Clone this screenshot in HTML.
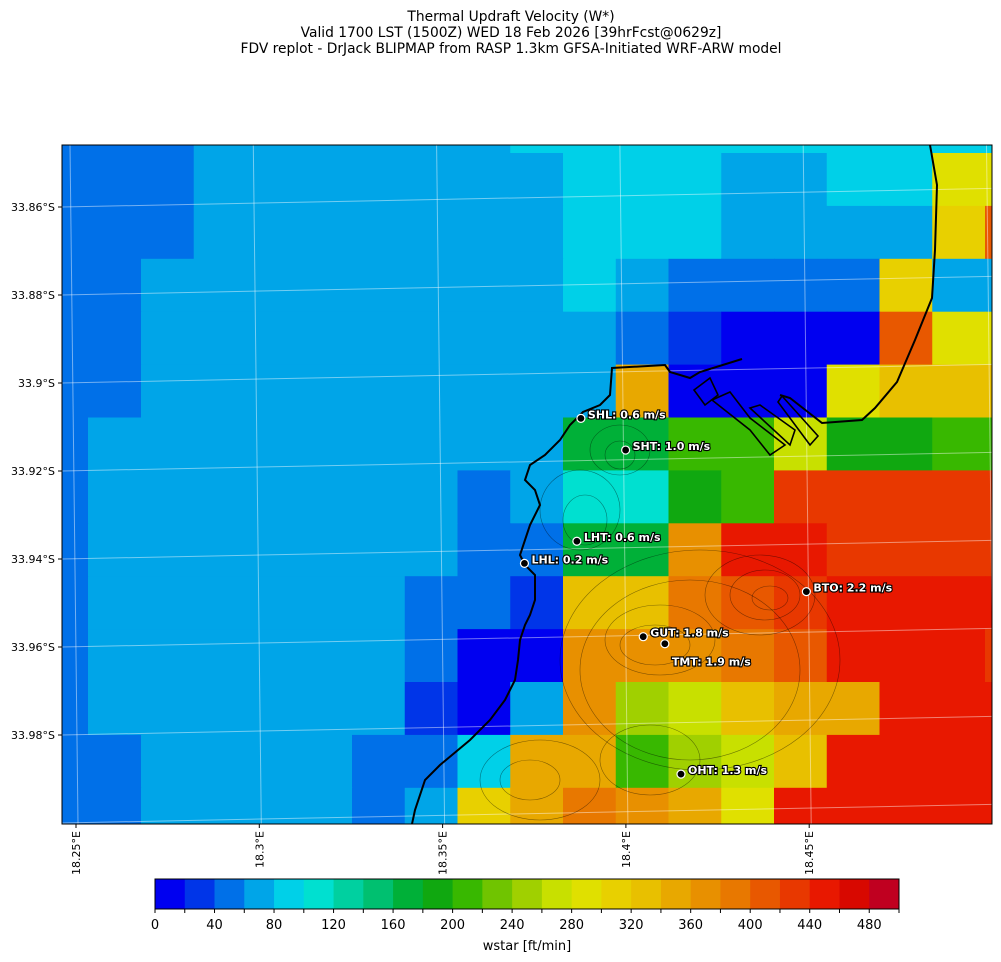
<!DOCTYPE html>
<html><head><meta charset="utf-8"><style>
body{margin:0;background:#fff;}
svg{display:block;font-family:"DejaVu Sans","Liberation Sans",sans-serif;}
</style></head><body>
<svg id="chart" width="1001" height="962" viewBox="0 0 1001 962" xmlns="http://www.w3.org/2000/svg">
<g font-size="13.8" text-anchor="middle" fill="#000">
<text x="511" y="21">Thermal Updraft Velocity (W*)</text>
<text x="511" y="37">Valid 1700 LST (1500Z) WED 18 Feb 2026 [39hrFcst@0629z]</text>
<text x="511" y="53">FDV replot - DrJack BLIPMAP from RASP 1.3km GFSA-Initiated WRF-ARW model</text>
</g>
<defs><clipPath id="mapclip"><rect x="62" y="145" width="930" height="679"/></clipPath></defs>
<g id="cells" clip-path="url(#mapclip)"></g>
<g id="grid" clip-path="url(#mapclip)" stroke="#ffffff" stroke-opacity="0.45" stroke-width="1"></g>
<g clip-path="url(#mapclip)" fill="none" stroke="#000" stroke-opacity="0.45" stroke-width="0.6">
<ellipse cx="760" cy="595" rx="55" ry="40"/><ellipse cx="765" cy="595" rx="35" ry="25"/><ellipse cx="770" cy="598" rx="18" ry="12"/>
<ellipse cx="660" cy="640" rx="55" ry="35"/><ellipse cx="655" cy="645" rx="35" ry="20"/>
<ellipse cx="580" cy="510" rx="40" ry="40"/><ellipse cx="585" cy="520" rx="22" ry="25"/>
<ellipse cx="620" cy="450" rx="30" ry="25"/><ellipse cx="620" cy="455" rx="15" ry="14"/>
<ellipse cx="700" cy="660" rx="140" ry="110"/><ellipse cx="690" cy="670" rx="110" ry="90"/>
<ellipse cx="540" cy="780" rx="60" ry="40"/><ellipse cx="530" cy="780" rx="30" ry="20"/>
<ellipse cx="650" cy="760" rx="50" ry="35"/>
</g>
<g clip-path="url(#mapclip)" fill="none" stroke="#000" stroke-width="2">
<polyline points="930,145 937,185 935,250 932,298 915,340 897,382 875,408 862,420 822,423 790,398 780,395"/>
<polyline points="742,359 700,372 690,378 670,372 665,365 612,368 610,395 600,405 583,412 570,425 560,440 545,455 530,465 525,480 535,490 540,505 530,525 525,540 520,555 525,565 535,575 535,600 530,615 525,625 520,640 518,660 515,680 505,700 490,720 470,740 440,765 425,780 415,810 412,824"/>
<polygon points="712,400 750,430 770,455 785,445 750,418 730,392" stroke-width="1.6"/>
<polygon points="750,408 790,445 795,430 760,405" stroke-width="1.6"/>
<polygon points="782,396 818,436 810,445 778,402" stroke-width="1.6"/>
<polygon points="694,390 710,378 718,395 705,405" stroke-width="1.6"/>
</g>
<rect x="62" y="145" width="930" height="679" fill="none" stroke="#000" stroke-width="1"/>
<g id="yaxis" font-size="11" text-anchor="end" fill="#000"></g>
<g id="xaxis" font-size="11" fill="#000"></g>
<g id="stations"></g>
<g id="cbar"></g>
<text x="527" y="950" font-size="13" text-anchor="middle">wstar [ft/min]</text>
</svg>
<script>
const palette=["#0000f0","#0035e8","#0070e8","#00a5e8","#00d0e8","#00e0d0","#00d0a0","#00c070","#00b038","#10a810","#38b800","#70c400","#a0d000","#c8e000","#e0e000","#e8d000","#e8c000","#e8a800","#e89000","#e87800","#e85800","#e83800","#e81800","#d80800","#c00020"];
const colorLevels=[0,20,40,60,80,100,120,140,160,180,200,220,240,260,280,300,320,340,360,380,400,420,440,460,480,500];
const colTicks=[0,40,80,120,160,200,240,280,320,360,400,440,480];
const latLabels=["33.86°S","33.88°S","33.9°S","33.92°S","33.94°S","33.96°S","33.98°S"];
const lonLabels=["18.25°E","18.3°E","18.35°E","18.4°E","18.45°E"];
// grid of wstar values (ft/min), rows top->bottom, columns left->right
const row00=[50,50,50,70,70,70,70,70,70,90,90,90,90,90,90,90,90,90,90,90];
const row01=[50,50,50,70,70,70,70,70,70,70,90,90,90,70,70,90,90,290,290,290];
const row02=[50,50,50,70,70,70,70,70,70,70,90,90,90,70,70,70,70,310,410,410];
const row03=[50,50,70,70,70,70,70,70,70,70,90,70,50,50,50,50,310,70,70,70];
const row04=[50,50,70,70,70,70,70,70,70,70,70,50,30,10,10,10,410,290,290,290];
const row05=[50,50,70,70,70,70,70,70,70,70,70,350,10,10,10,290,330,330,330,330];
const row06=[50,70,70,70,70,70,70,70,70,70,170,170,210,210,270,190,190,210,210,210];
const row07=[50,70,70,70,70,70,70,70,50,70,110,110,190,210,430,430,430,430,430,430];
const row08=[50,70,70,70,70,70,70,70,50,50,170,170,370,450,450,430,430,430,430,430];
const row09=[50,70,70,70,70,70,70,50,50,30,330,330,390,410,430,450,450,450,450,450];
const row10=[50,70,70,70,70,70,70,50,10,10,370,370,370,390,410,450,450,450,430,430];
const row11=[50,70,70,70,70,70,70,30,10,70,370,250,270,330,350,350,450,450,450,450];
const row12=[50,50,70,70,70,70,50,50,90,350,350,210,250,270,330,450,450,450,450,450];
const row13=[50,50,70,70,70,70,50,70,310,350,390,370,350,290,450,450,450,450,450,450];
const gridRows=[row00,row01,row02,row03,row04,row05,row06,row07,row08,row09,row10,row11,row12,row13];
const stationNames=["SHL","SHT","LHT","LHL","BTO","GUT","TMT","OHT"];
const stationValues=[0.6,1.0,0.6,0.2,2.2,1.8,1.9,1.3];
const stationLon=[18.388,18.4002,18.3869,18.3726,18.4495,18.405,18.4109,18.4153];
const stationLat=[33.9104,33.9178,33.9383,33.9431,33.9508,33.9603,33.9620,33.9917];

const NS="http://www.w3.org/2000/svg";
function mk(tag,attrs,parent){const e=document.createElementNS(NS,tag);for(const k in attrs)e.setAttribute(k,attrs[k]);parent.appendChild(e);return e;}
function colorFor(v){let i=Math.floor(v/20);if(i<0)i=0;if(i>24)i=24;return palette[i];}
const colEdges=[62,88];for(let i=0;i<18;i++)colEdges.push(141+i*52.75);
const rowEdges=[145];for(let i=0;i<14;i++)rowEdges.push(153+i*52.9);
function xLon(lon){return 75+(lon-18.25)/0.05*183.3;}
function yLat(lat,x){return 207+(lat-33.86)/0.02*88-(x-62)*0.02;}
const cells=document.getElementById('cells');
gridRows.forEach((row,r)=>{row.forEach((v,c)=>{
 const x0=colEdges[c],x1=(c+1<colEdges.length)?colEdges[c+1]:1050;
 const rect=mk('rect',{x:x0,y:rowEdges[r],width:x1-x0+0.6,height:rowEdges[r+1]-rowEdges[r]+0.6,fill:colorFor(v)},cells);
 
 
});});
const grid=document.getElementById('grid');
for(let i=-1;i<10;i++){const y=207+i*88;const l=mk('line',{x1:62,y1:y,x2:992,y2:y-(930)*0.02},grid);
 
 }
for(let i=-1;i<6;i++){const x=75+i*183.3;const l=mk('line',{x1:x-5,y1:145,x2:x+3,y2:824},grid);
 
 }
const ya=document.getElementById('yaxis');
latLabels.forEach((t,i)=>{const y=207+i*88;
 const tk=mk('line',{x1:58,y1:y,x2:62,y2:y,stroke:'#000'},ya);
 
 
 const tx=mk('text',{x:55,y:y+4},ya);tx.textContent=t;
 
 });
const xa=document.getElementById('xaxis');
lonLabels.forEach((t,i)=>{const x=75+i*183.3;
 const tk=mk('line',{x1:x+1,y1:824,x2:x+1,y2:828,stroke:'#000'},xa);
 
 
 const tx=mk('text',{x:0,y:0,transform:`translate(${x+5},831) rotate(-90)`,'text-anchor':'end'},xa);tx.textContent=t;
 
 });
const st=document.getElementById('stations');
stationNames.forEach((n,i)=>{const x=xLon(stationLon[i]);const y=yLat(stationLat[i],x);
 const g=mk('g',{},st);
 
 
 mk('circle',{cx:x,cy:y,r:4,fill:'#000',stroke:'#fff','stroke-width':1.2},g);
 const ty=(n==='TMT')?y+22:y;
 const lbl=mk('text',{x:x+7,y:ty,'font-size':11,'font-weight':'bold',fill:'#fff',stroke:'#000','stroke-width':2.2,'paint-order':'stroke'},g);
 lbl.textContent=n+': '+stationValues[i].toFixed(1)+' m/s';});
const cb=document.getElementById('cbar');
const cbx=155,cbw=744;
function cbX(v){return cbx+v/500*cbw;}
for(let i=0;i<palette.length;i++){
 const r=mk('rect',{x:cbX(colorLevels[i]),y:879,width:cbX(colorLevels[i+1])-cbX(colorLevels[i])+0.5,height:30,fill:palette[i]},cb);
 
 }
mk('rect',{x:cbx,y:879,width:cbw,height:30,fill:'none',stroke:'#000','stroke-width':1},cb);
colorLevels.forEach(v=>{mk('line',{x1:cbX(v),y1:909,x2:cbX(v),y2:913,stroke:'#000'},cb);});
colTicks.forEach(v=>{const t=mk('text',{x:cbX(v),y:929,'font-size':13,'text-anchor':'middle'},cb);t.textContent=v;
 
 });
</script>
</body></html>
